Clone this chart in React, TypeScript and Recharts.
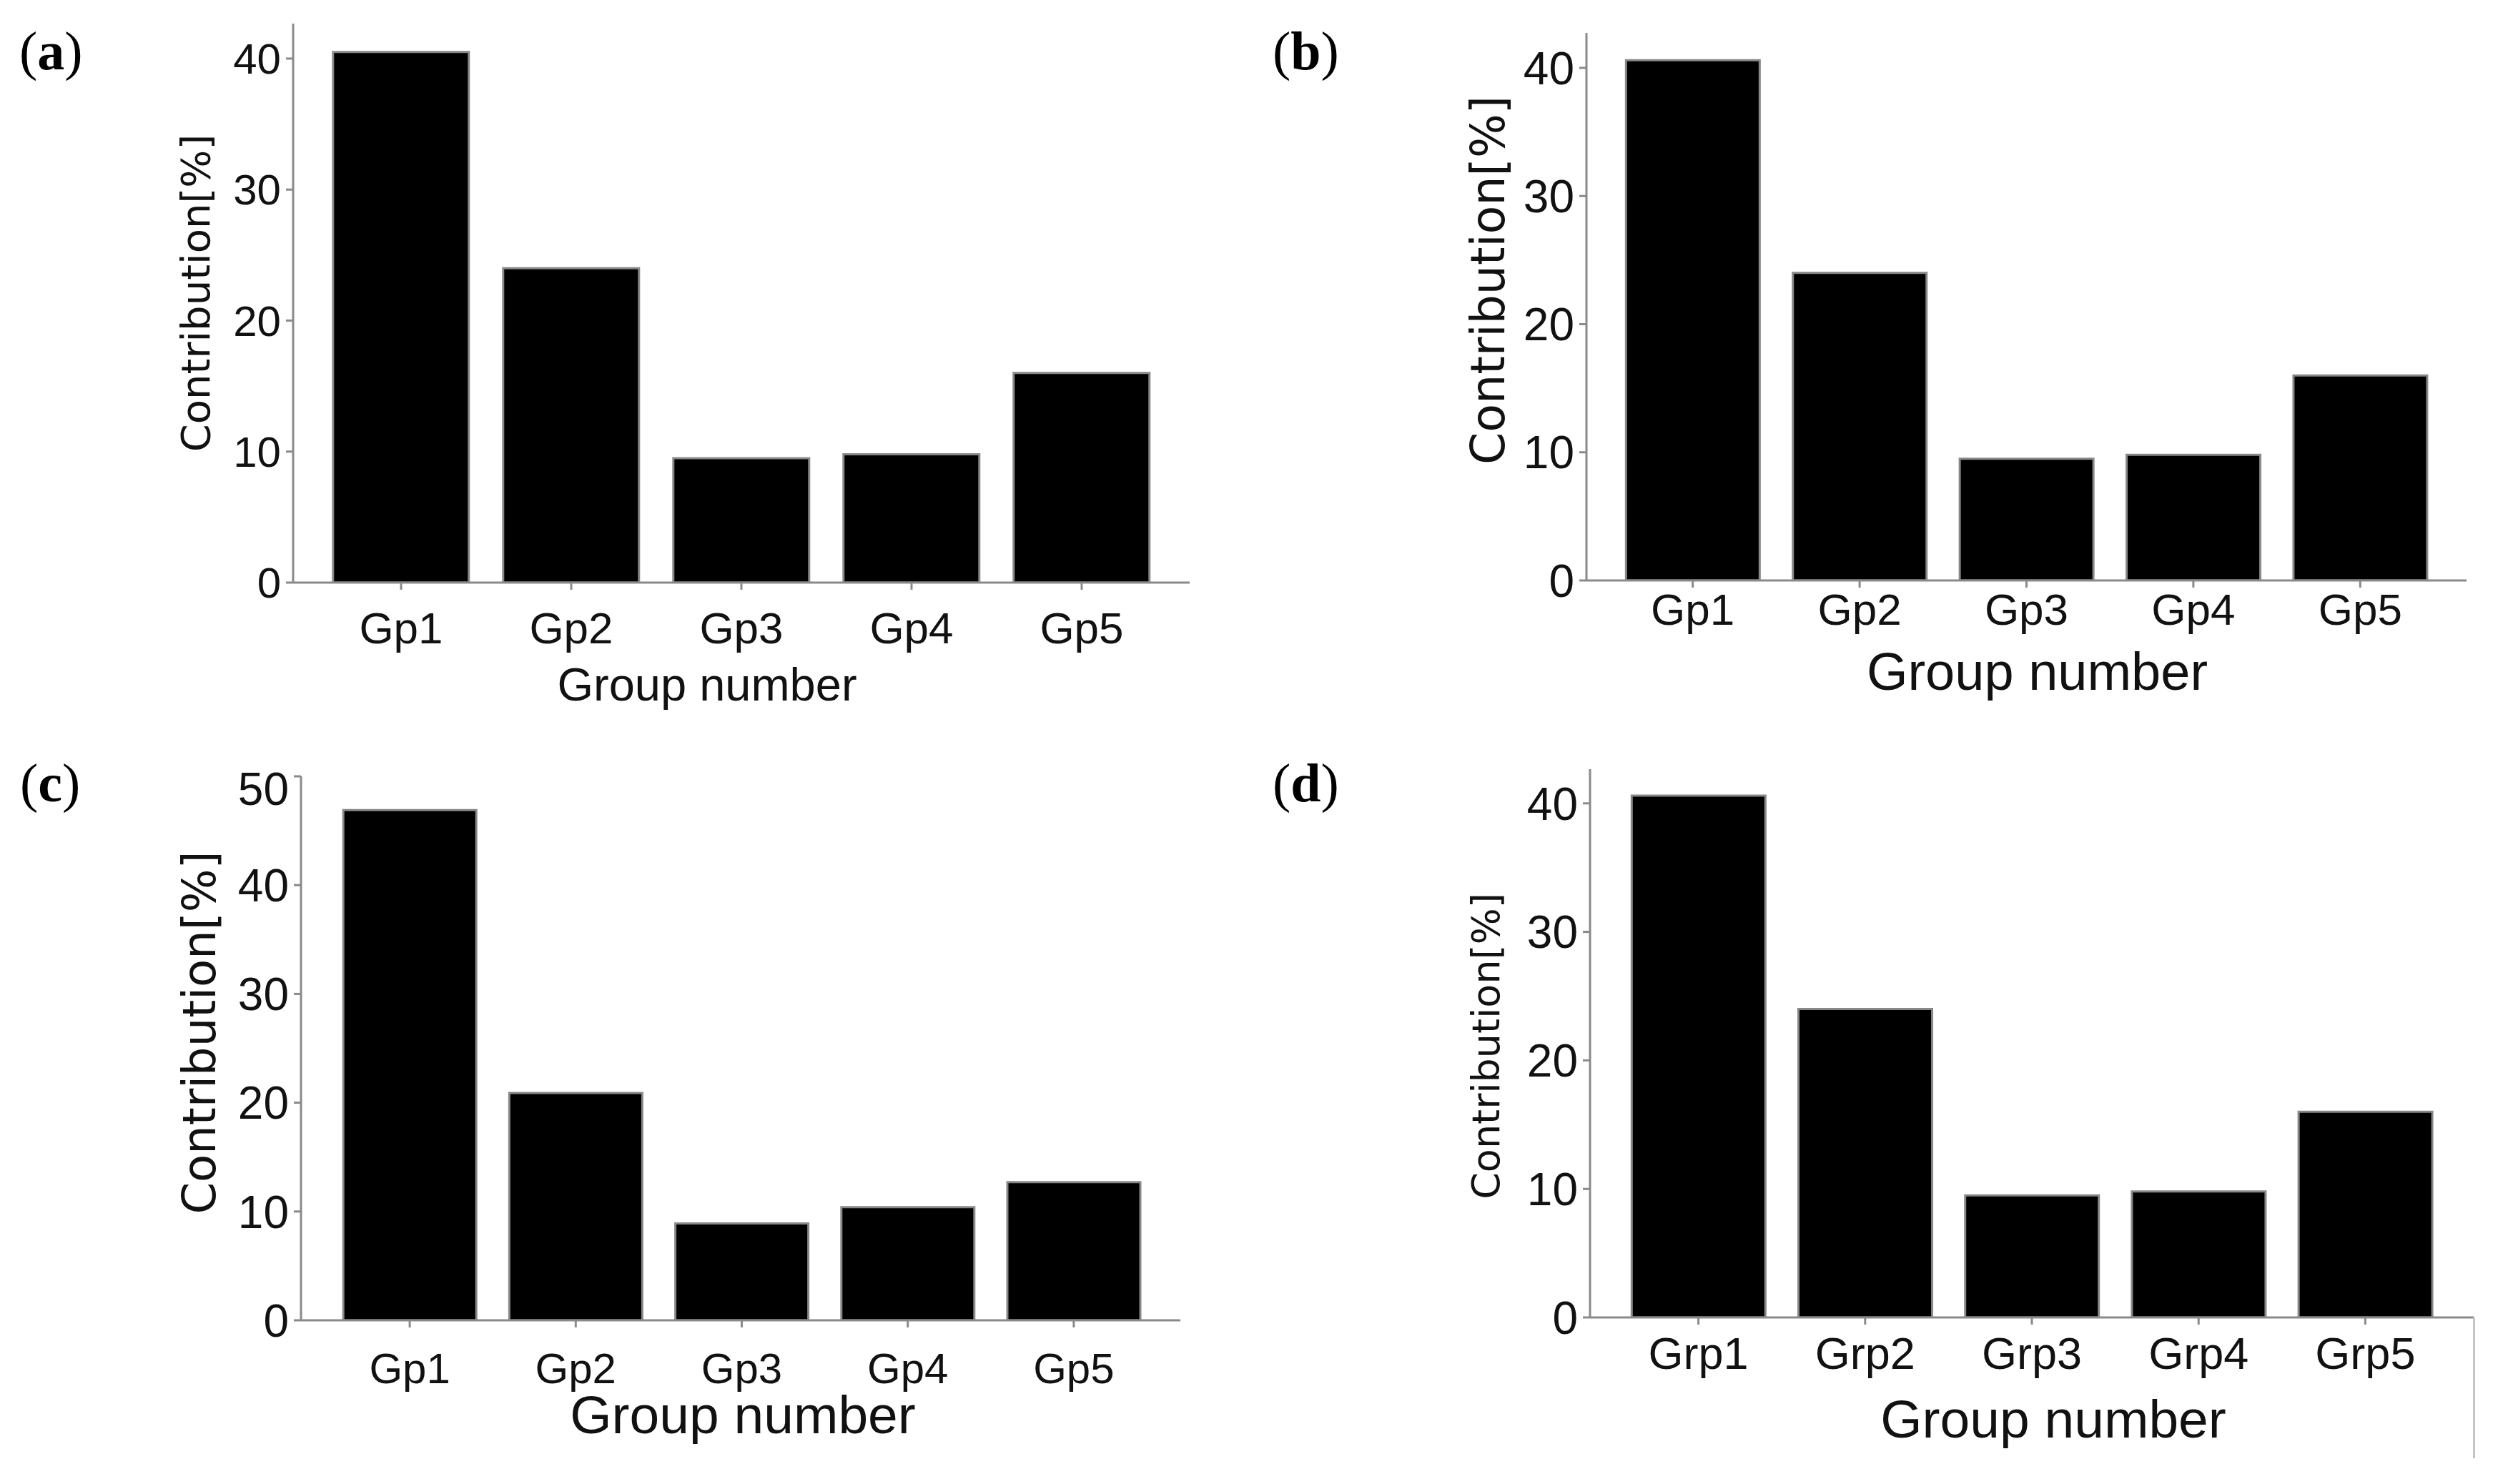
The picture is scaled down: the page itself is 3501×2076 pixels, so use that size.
import React from "react";
import { BarChart, Bar, XAxis, YAxis, Label } from "recharts";

const groupsGp = ["Gp1", "Gp2", "Gp3", "Gp4", "Gp5"];
const groupsGrp = ["Grp1", "Grp2", "Grp3", "Grp4", "Grp5"];

const contribA = [40.5, 24.0, 9.5, 9.8, 16.0];
const contribB = [40.6, 24.0, 9.5, 9.8, 16.0];
const contribC = [46.9, 20.9, 8.9, 10.4, 12.7];
const contribD = [40.6, 24.0, 9.5, 9.8, 16.0];

const ticks40 = [0, 10, 20, 30, 40];
const ticks50 = [0, 10, 20, 30, 40, 50];

const X_LABEL = "Group number";
const Y_LABEL = "Contribution[%]";

const SANS = "'Liberation Sans', Arial, sans-serif";
const WIDE = "'DejaVu Sans', Verdana, sans-serif";
const SERIF = "'Liberation Serif', 'Times New Roman', serif";

const AXIS = "#8a8a8a";
const AXIS_W = 3;
const Y_AXIS_W = 200;
const X_AXIS_H = 220;

interface Panel {
  tag: string;
  tagX: number;
  tagY: number;
  groups: string[];
  values: number[];
  ticks: number[];
  yMax: number;
  box: { left: number; top: number; right: number; bottom: number };
  pad: { left: number; right: number };
  yTickSize: number;
  xTickSize: number;
  xTickMargin: number;
  xLabelSize: number;
  xLabelDx: number;
  xLabelBase: number;
  yLabelSize: number;
  yLabelDx: number;
  yLabelDy: number;
  rightColor: string;
}

const panels: Panel[] = [
  {
    tag: "a", tagX: 27, tagY: 97,
    groups: groupsGp, values: contribA, ticks: ticks40, yMax: 42.67,
    box: { left: 410, top: 33, right: 1664, bottom: 815 },
    pad: { left: 32, right: 32 },
    yTickSize: 60, xTickSize: 62, xTickMargin: 31,
    xLabelSize: 65, xLabelDx: -48, xLabelBase: 165,
    yLabelSize: 56, yLabelDx: 137, yLabelDy: -14,
    rightColor: "#888",
  },
  {
    tag: "b", tagX: 1780, tagY: 97,
    groups: groupsGp, values: contribB, ticks: ticks40, yMax: 42.73,
    box: { left: 2219, top: 46, right: 3450, bottom: 812 },
    pad: { left: 32, right: 32 },
    yTickSize: 64, xTickSize: 62, xTickMargin: 8,
    xLabelSize: 74, xLabelDx: 15, xLabelBase: 153,
    yLabelSize: 65, yLabelDx: 138, yLabelDy: -37,
    rightColor: "#555",
  },
  {
    tag: "c", tagX: 28, tagY: 1121,
    groups: groupsGp, values: contribC, ticks: ticks50, yMax: 50,
    box: { left: 421, top: 1086, right: 1651, bottom: 1847 },
    pad: { left: 36, right: 33 },
    yTickSize: 64, xTickSize: 60, xTickMargin: 35,
    xLabelSize: 75, xLabelDx: 3, xLabelBase: 158,
    yLabelSize: 64, yLabelDx: 142, yLabelDy: -22,
    rightColor: "#555",
  },
  {
    tag: "d", tagX: 1780, tagY: 1121,
    groups: groupsGrp, values: contribD, ticks: ticks40, yMax: 42.66,
    box: { left: 2224, top: 1076, right: 3460, bottom: 1843 },
    pad: { left: 35, right: 35 },
    yTickSize: 64, xTickSize: 63, xTickMargin: 17,
    xLabelSize: 75, xLabelDx: 30, xLabelBase: 168,
    yLabelSize: 54, yLabelDx: 146, yLabelDy: 4,
    rightColor: "#333",
  },
];

function ContributionPanel({ p }: { p: Panel }) {
  const data = p.groups.map((name, i) => ({ name, value: p.values[i] }));
  const plotW = p.box.right - p.box.left;
  const plotH = p.box.bottom - p.box.top;

  const yLabel = (props: any) => {
    const vb = props.viewBox || {};
    const cx = vb.x + vb.width - p.yLabelDx;
    const cy = vb.y + vb.height / 2 + p.yLabelDy;
    return (
      <text
        x={cx}
        y={cy}
        transform={`rotate(-90, ${cx}, ${cy})`}
        textAnchor="middle"
        dominantBaseline="central"
        fontFamily={WIDE}
        fontSize={p.yLabelSize}
        fill="#111"
      >
        {Y_LABEL}
      </text>
    );
  };

  const xLabel = (props: any) => {
    const vb = props.viewBox || {};
    return (
      <text
        x={vb.x + vb.width / 2 + p.xLabelDx}
        y={vb.y + p.xLabelBase}
        textAnchor="middle"
        fontFamily={SANS}
        fontSize={p.xLabelSize}
        fill="#111"
      >
        {X_LABEL}
      </text>
    );
  };

  return (
    <div
      style={{
        position: "absolute",
        left: p.box.left - Y_AXIS_W,
        top: p.box.top - 20,
      }}
    >
      <BarChart
        width={plotW + Y_AXIS_W + 20}
        height={plotH + 20 + X_AXIS_H}
        data={data}
        margin={{ top: 20, right: 20, bottom: 0, left: 0 }}
        barCategoryGap="10%"
      >
        <XAxis
          dataKey="name"
          height={X_AXIS_H}
          padding={p.pad}
          interval={0}
          axisLine={{ stroke: AXIS, strokeWidth: AXIS_W }}
          tickLine={{ stroke: AXIS, strokeWidth: 3 }}
          tickSize={10}
          tickMargin={p.xTickMargin}
          tick={{ fontFamily: SANS, fontSize: p.xTickSize, fill: "#111" }}
        >
          <Label content={xLabel} />
        </XAxis>
        <XAxis
          xAxisId="top"
          dataKey="name"
          orientation="top"
          height={0}
          tick={false}
          tickLine={false}
          axisLine={{ stroke: "#333", strokeWidth: 4 }}
        />
        <YAxis
          width={Y_AXIS_W}
          domain={[0, p.yMax]}
          ticks={p.ticks}
          allowDataOverflow
          axisLine={{ stroke: AXIS, strokeWidth: AXIS_W }}
          tickLine={{ stroke: AXIS, strokeWidth: 3 }}
          tickSize={10}
          tickMargin={7}
          tick={{ fontFamily: SANS, fontSize: p.yTickSize, fill: "#111" }}
        >
          <Label content={yLabel} />
        </YAxis>
        <YAxis
          yAxisId="right"
          orientation="right"
          width={0}
          domain={[0, p.yMax]}
          tick={false}
          tickLine={false}
          axisLine={{ stroke: p.rightColor, strokeWidth: 4 }}
        />
        <Bar
          dataKey="value"
          fill="#000"
          stroke="#888"
          strokeWidth={3}
          isAnimationActive={false}
        />
      </BarChart>
    </div>
  );
}

function PanelTag({ p }: { p: Panel }) {
  return (
    <svg
      width={160}
      height={140}
      style={{ position: "absolute", left: p.tagX - 10, top: p.tagY - 100 }}
    >
      <text x={10} y={100} fontFamily={SERIF} fontSize={76} fill="#000">
        <tspan>(</tspan>
        <tspan fontWeight="bold">{p.tag}</tspan>
        <tspan>)</tspan>
      </text>
    </svg>
  );
}

export default function App() {
  return (
    <div
      style={{
        position: "absolute",
        left: 0,
        top: 0,
        width: 3501,
        height: 2076,
        background: "#fff",
        overflow: "hidden",
      }}
    >
      {panels.map((p) => (
        <React.Fragment key={p.tag}>
          <ContributionPanel p={p} />
          <PanelTag p={p} />
        </React.Fragment>
      ))}
      {/* stray frame line under panel (d) in the original figure */}
      <div
        style={{
          position: "absolute",
          left: 3459,
          top: 1843,
          width: 3,
          height: 197,
          background: "#c4c4c4",
        }}
      />
    </div>
  );
}
